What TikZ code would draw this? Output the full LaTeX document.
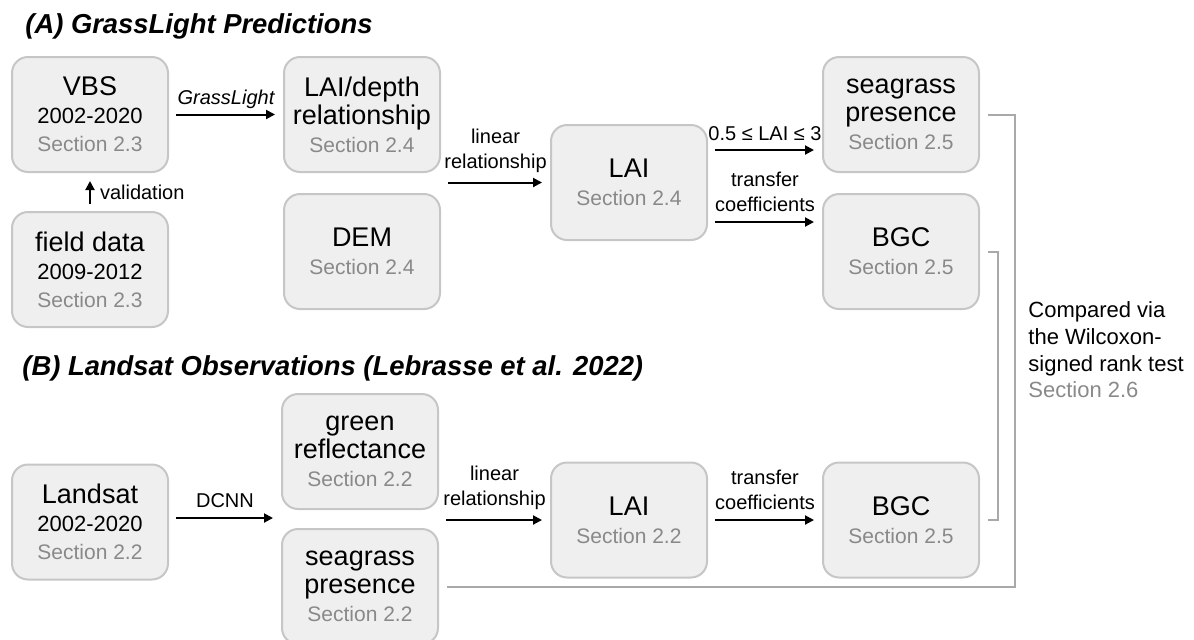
\documentclass[tikz,border=0pt]{standalone}
\usepackage{fontspec}
\setmainfont{Liberation Sans}
\usetikzlibrary{arrows.meta, positioning}

\definecolor{boxfill}{HTML}{EFEFEF}
\definecolor{boxline}{HTML}{C6C6C6}
\definecolor{secgray}{HTML}{898989}
\definecolor{linkgray}{HTML}{A9A9A9}

\newcommand{\ttl}[1]{{\fontsize{13.5}{14}\selectfont #1}}
\newcommand{\yr}[1]{{\fontsize{11}{14}\selectfont #1}}
\newcommand{\sect}[1]{{\color{secgray}#1}}

\tikzset{
  box/.style={draw=boxline, fill=boxfill, line width=1pt, rounded corners=8pt,
    minimum width=78pt, minimum height=57.5pt, inner sep=2pt, align=center,
    font=\fontsize{10.5}{14}\selectfont},
  flow/.style={-{Triangle[length=4.5pt,width=4.5pt]}, line width=1pt,
    shorten <=3.5pt, shorten >=4pt},
  link/.style={draw=linkgray, line width=1pt},
  lbl/.style={align=center, inner sep=1.5pt, font=\fontsize{10}{12.5}\selectfont},
  heading/.style={anchor=base west, inner sep=0pt,
    font=\fontsize{13.7}{16}\selectfont\bfseries\itshape},
}

\begin{document}
\begin{tikzpicture}[x=0.5pt, y=-0.5pt]
  \useasboundingbox (0,0) rectangle (1194,639);

  %Headings
  \node[heading] (headA) at (25,33) {(A) GrassLight Predictions};
  \node[heading] (headB) at (22,375) {(B) Landsat Observations (Lebrasse et al. 2022)};

  %Define nodes (A)
  \node[box] (vbs) at (90,114.5) {\ttl{VBS}\\ \yr{2002-2020}\\ \sect{Section 2.3}};
  \node[box, below=19pt of vbs] (field) {\ttl{field data}\\ \yr{2009-2012}\\ \sect{Section 2.3}};
  \node[box, right=57pt of vbs] (depth) {\ttl{LAI/depth}\\ \ttl{relationship}\\ \sect{Section 2.4}};
  \node[box, below=10pt of depth] (dem) {\ttl{DEM}\\ \sect{Section 2.4}};
  \node[box] (laiA) at (629,182.5) {\ttl{LAI}\\ \sect{Section 2.4}};
  \node[box] (seagA) at (901,114.5) {\ttl{seagrass}\\ \ttl{presence}\\ \sect{Section 2.5}};
  \node[box, below=10pt of seagA] (bgcA) {\ttl{BGC}\\ \sect{Section 2.5}};

  %Define nodes (B)
  \node[box] (landsat) at (90,522) {\ttl{Landsat}\\ \yr{2002-2020}\\ \sect{Section 2.2}};
  \node[box] (green) at (360,451.5) {\ttl{green}\\ \ttl{reflectance}\\ \sect{Section 2.2}};
  \node[box, below=9pt of green] (seagB) {\ttl{seagrass}\\ \ttl{presence}\\ \sect{Section 2.2}};
  \node[box] (laiB) at (629,520) {\ttl{LAI}\\ \sect{Section 2.2}};
  \node[box] (bgcB) at (901,520) {\ttl{BGC}\\ \sect{Section 2.5}};

  \node[anchor=west, align=left, inner sep=0pt, font=\fontsize{11}{13.3}\selectfont] (cmp) at (1028,350)
    {Compared via\\ the Wilcoxon-\\ signed rank test\\ \sect{Section 2.6}};

  % Connect the nodes (A)
  \draw[flow] (vbs) -- node[lbl, above=1pt] {\itshape GrassLight} (depth);
  \draw[flow] (field) -- node[lbl, right=3pt] {validation} (vbs);
  \draw[flow] (depth.east |- laiA.west) -- node[lbl, above=3pt] {linear\\ relationship} (laiA.west);
  \draw[flow] ([yshift=16.25pt]laiA.east) -- node[lbl, above=2.5pt] {0.5 ≤ LAI ≤ 3} ([yshift=16.25pt]laiA.east -| seagA.west);
  \draw[flow] ([yshift=-19.75pt]laiA.east) -- node[lbl, above=3pt] {transfer\\ coefficients} ([yshift=-19.75pt]laiA.east -| bgcA.west);

  % Connect the nodes (B)
  \draw[flow] ([yshift=2pt]landsat.east) -- node[lbl, above=3pt] {DCNN} ([yshift=2pt]landsat.east -| green.west);
  \draw[flow] (green.east |- laiB.west) -- node[lbl, above=3pt] {linear\\ relationship} (laiB.west);
  \draw[flow] (laiB) -- node[lbl, above=3pt] {transfer\\ coefficients} (bgcB);

  % Comparison brackets
  \draw[link] ([xshift=4pt]seagA.east) -- ++(13.5pt,0) |- ([xshift=4pt]seagB.east);
  \draw[link] ([xshift=4pt]bgcA.east) -- ++(5pt,0) |- ([xshift=4pt]bgcB.east);
\end{tikzpicture}
\end{document}
